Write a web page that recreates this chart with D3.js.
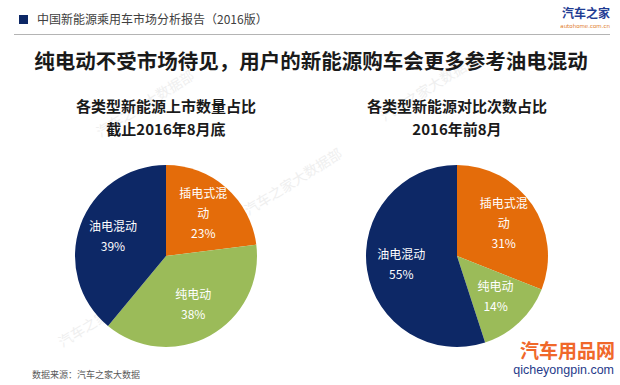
<!DOCTYPE html>
<html>
<head>
<meta charset="utf-8">
<script src="https://cdn.jsdelivr.net/npm/d3@7"></script>
<style>
  body { margin: 0; background: #fff; }
  svg { display: block; font-family: "Noto Sans CJK SC", "Noto Sans", sans-serif; }
</style>
</head>
<body>
<div id="chart"></div>
<script>
// categories, clockwise from 12 o'clock
const categories = ["插电式混动", "纯电动", "油电混动"];
const listingShare = [23, 38, 39];   // 截止2016年8月底
const compareShare = [31, 14, 55];   // 2016年前8月
const pieTitles = [
    ["各类型新能源上市数量占比", "截止2016年8月底"],
    ["各类型新能源对比次数占比", "2016年前8月"]
];
const headerText = "中国新能源乘用车市场分析报告（2016版）";
const mainTitle = "纯电动不受市场待见，用户的新能源购车会更多参考油电混动";
const sourceText = "数据来源：汽车之家大数据";

const width = 620, height = 385,
      radius = 91,
      colors = ["#E46C0A", "#9BBB59", "#0D2866"];

const svg = d3.select("#chart").append("svg")
    .attr("width", width)
    .attr("height", height);

// faint watermarks
const marks = [[148, 108], [296, 186], [432, 92], [110, 318]];
svg.selectAll(".wm")
    .data(marks).enter().append("text")
    .attr("class", "wm")
    .attr("transform", d => "translate(" + d[0] + "," + d[1] + ") rotate(-32)")
    .attr("text-anchor", "middle")
    .style("font-size", "14px")
    .style("fill", "#efefef")
    .text("汽车之家大数据部");

// header
svg.append("rect").attr("x", 19).attr("y", 15).attr("width", 9).attr("height", 9).style("fill", "#0D2866");
svg.append("text").attr("x", 37).attr("y", 24)
    .style("font-size", "12px").style("fill", "#404040")
    .text(headerText);
svg.append("line").attr("x1", 14).attr("x2", 610).attr("y1", 34.5).attr("y2", 34.5)
    .style("stroke", "#b4b4b4").style("stroke-width", 1);
svg.append("text").attr("x", 610).attr("y", 18).attr("text-anchor", "end")
    .style("font-size", "12px").style("font-weight", "bold").style("fill", "#1f3c93")
    .text("汽车之家");
svg.append("text").attr("x", 610).attr("y", 28).attr("text-anchor", "end")
    .style("font-size", "5.5px").style("font-family", "DejaVu Sans").style("fill", "#e07a2a")
    .text("autohome.com.cn");

// title
svg.append("text").attr("x", 311).attr("y", 69).attr("text-anchor", "middle")
    .style("font-size", "20.5px").style("font-weight", "bold").style("fill", "#1a1a1a")
    .text(mainTitle);

const pie = d3.pie().sort(null).value(d => d);
const arc = d3.arc().innerRadius(0).outerRadius(radius);
const labelArc = d3.arc().innerRadius(radius * 0.62).outerRadius(radius * 0.62);

function wrap(name) {
    const out = [];
    for (let i = 0; i < name.length; i += 4) out.push(name.slice(i, i + 4));
    return out;
}

function drawPie(values, cx, titles) {
    const g = svg.append("g").attr("transform", "translate(" + cx + ",256)");

    svg.selectAll(null).data(titles).enter().append("text")
        .attr("x", cx)
        .attr("y", (d, i) => 112 + i * 23)
        .attr("text-anchor", "middle")
        .style("font-size", "15px").style("font-weight", "bold").style("fill", "#1a1a1a")
        .text(d => d);

    const slices = pie(values);
    g.selectAll("path").data(slices).enter().append("path")
        .attr("d", arc)
        .style("fill", (d, i) => colors[i]);

    const labels = g.selectAll(".lbl").data(slices).enter().append("text")
        .attr("class", "lbl")
        .attr("text-anchor", "middle")
        .style("font-size", "12px").style("fill", "#fff");
    labels.each(function (d, i) {
        const lines = wrap(categories[i]).concat([d.value + "%"]);
        const c = labelArc.centroid(d);
        d3.select(this).selectAll("tspan").data(lines).enter().append("tspan")
            .attr("x", c[0])
            .attr("y", (t, j) => c[1] - (lines.length - 1) * 10 + j * 20 + 4)
            .text(t => t);
    });
}

drawPie(listingShare, 166, pieTitles[0]);
drawPie(compareShare, 457, pieTitles[1]);

// footer
svg.append("text").attr("x", 32).attr("y", 378)
    .style("font-size", "9px").style("fill", "#595959")
    .text(sourceText);
svg.append("text").attr("x", 615).attr("y", 358).attr("text-anchor", "end")
    .style("font-size", "19px").style("font-weight", "bold").style("fill", "#F0682A")
    .text("汽车用品网");
svg.append("text").attr("x", 614).attr("y", 374).attr("text-anchor", "end")
    .style("font-size", "12.5px").style("font-family", "Liberation Sans, Arial").style("fill", "#1f3a8a")
    .text("qicheyongpin.com");
</script>
</body>
</html>
